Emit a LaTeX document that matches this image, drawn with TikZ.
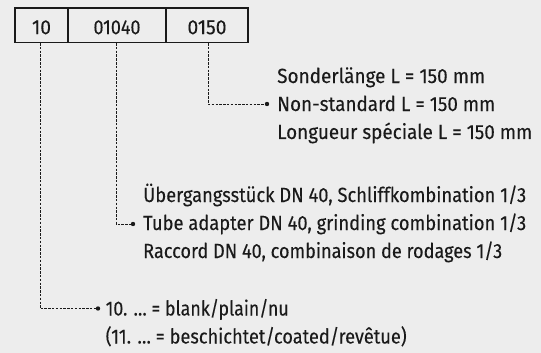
\documentclass[tikz,border=0pt]{standalone}
\usepackage{fontspec}
\usepackage{graphicx}
\setmainfont{Fira Sans}[FakeBold=0.15]
\definecolor{bg}{HTML}{EDEDED}
\definecolor{ink}{HTML}{1A1A1A}
\newcommand\fitw[2]{\resizebox{#1}{\height}{#2}}
\tikzset{
  cell/.style={draw=ink, line width=1.1pt, minimum height=34.5pt, inner sep=0pt,
    text height=17.8pt, text depth=0pt,
    font=\fontsize{20.5}{24}\selectfont, text=ink},
  conn/.style={draw=ink, line width=0.9pt, dash pattern=on 2.5pt off 1.3pt},
  dotmark/.style={circle, fill=ink, inner sep=0pt, minimum size=4.4pt},
  lbl/.style={anchor=base west, inner sep=0pt, font=\fontsize{20.5}{24}\selectfont, text=ink}
}
\begin{document}
\begin{tikzpicture}[x=1pt,y=-1pt]
\fill[bg] (0,0) rectangle (541,353);
\useasboundingbox (0,0) rectangle (541,353);
% code cells
\node[cell, minimum width=53pt] (c1) at (41.5,25.3) {\fitw{19pt}{10}};
\node[cell, minimum width=98pt] (c2) at (117,25.3) {\fitw{47pt}{01040}};
\node[cell, minimum width=82pt] (c3) at (207,25.3) {\fitw{39pt}{0150}};
% dots
\node[dotmark] (d3) at (267,104) {};
\node[dotmark] (d2) at (133,224) {};
\node[dotmark] (d1) at (98,308.5) {};
% connectors
\draw[conn] ([xshift=1pt]c3.south) |- (d3);
\draw[conn] ([xshift=-1pt]c2.south) |- (d2);
\draw[conn] ([xshift=-1.5pt]c1.south) |- (d1);
% labels
\node[lbl] (t3a) at (277,83) {\fitw{208pt}{Sonderlänge L = 150 mm}};
\node[lbl] (t3b) at (277,111) {\fitw{218pt}{Non-standard L = 150 mm}};
\node[lbl] (t3c) at (277,139) {\fitw{255pt}{Longueur spéciale L = 150 mm}};
\node[lbl] (t2a) at (143,202) {\fitw{383pt}{Übergangsstück DN 40, Schliffkombination 1/3}};
\node[lbl] (t2b) at (143,230) {\fitw{383pt}{Tube adapter DN 40, grinding combination 1/3}};
\node[lbl] (t2c) at (143,258) {\fitw{359pt}{Raccord DN 40, combinaison de rodages 1/3}};
\node[lbl] (t1a) at (105.5,315.5) {\fitw{183pt}{10. … = blank/plain/nu}};
\node[lbl] (t1b) at (105.5,343.5) {\fitw{301pt}{(11. … = beschichtet/coated/revêtue)}};
\end{tikzpicture}
\end{document}
